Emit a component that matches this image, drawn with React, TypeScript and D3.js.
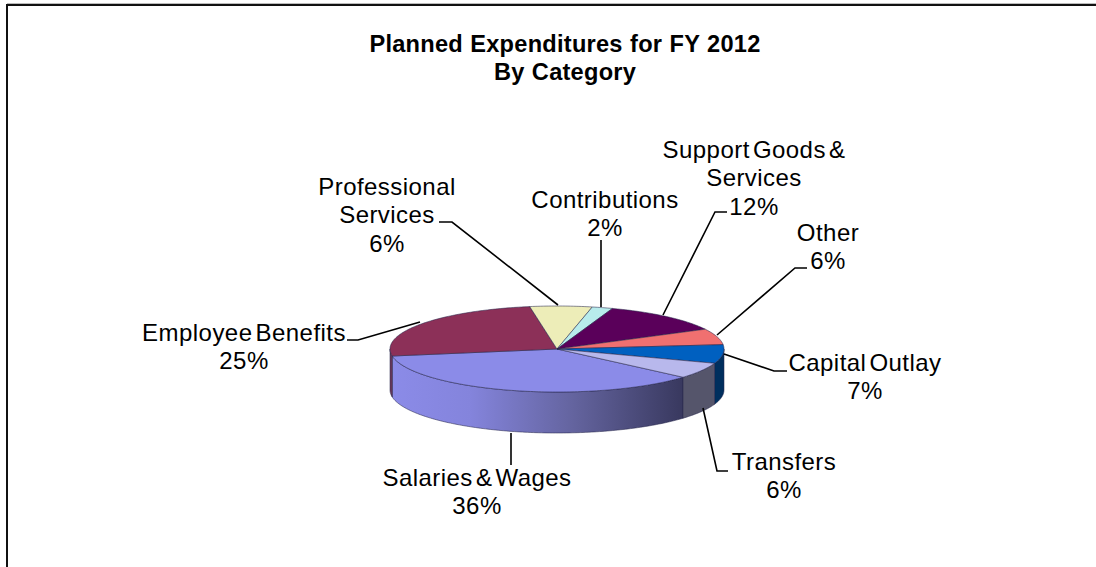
import React from "react";
import * as d3 from "d3";

// Expenditure shares, clockwise from the front-right edge of the pie
const categories = ["Salaries & Wages", "Employee Benefits", "Professional Services", "Contributions", "Support Goods & Services", "Other", "Capital Outlay", "Transfers"];
const shares = [36, 25, 6, 2, 12, 6, 7, 6];
const topColors = ["#8b8be8", "#8c3058", "#ededb8", "#b8ecec", "#5a005a", "#f07070", "#0060c0", "#b8b8ec"];
const wallColors = ["url(#salaryWall)", "#6e3a5c", "#77775c", "#5c7676", "#2d002d", "#783838", "#002f5e", "#55556b"];
const titleLines = ["Planned Expenditures for FY 2012", "By Category"];

// Wrapped label text for each category, in the same order
const labelLines = [
  ["Salaries & Wages"],
  ["Employee Benefits"],
  ["Professional", "Services"],
  ["Contributions"],
  ["Support Goods &", "Services"],
  ["Other"],
  ["Capital Outlay"],
  ["Transfers"],
];

// Label anchor (centre x, first baseline) and leader polyline per category
const labelAnchors: [number, number][] = [[477, 486], [244, 341], [387, 195], [605, 208], [754, 158], [828, 241], [865, 371], [784, 470]];
const leaders: [number, number][][] = [
  [[511, 433], [511, 465]],
  [[347, 340], [358, 340], [420, 322]],
  [[439, 222], [452, 222], [558, 305]],
  [[601, 240], [601, 307]],
  [[727, 212], [715, 212], [663, 315]],
  [[807, 268], [795, 268], [717, 335]],
  [[787, 371], [774, 371], [724, 354]],
  [[728, 471], [717, 471], [703, 408]],
];

const CX = 557;
const CY = 349;
const RX = 167;
const RY = 43;
const DEPTH = 41;
const LINE_HEIGHT = 28.3;
const START = (131 * Math.PI) / 180;

const pieAngles = d3.pie<number>().sort(null).startAngle(START).endAngle(START + 2 * Math.PI)(shares);

const rim = (a: number, dy = 0): [number, number] => [CX + RX * Math.sin(a), CY + dy - RY * Math.cos(a)];
const polyline = d3.line();
const arcPoints = (a0: number, a1: number, dy = 0): [number, number][] => {
  const n = Math.max(2, Math.ceil((a1 - a0) * 60));
  return d3.range(n + 1).map((i) => rim(a0 + ((a1 - a0) * i) / n, dy));
};

// Only the rim between due east and due west faces the viewer
const frontRanges: [number, number][] = [
  [Math.PI / 2, (3 * Math.PI) / 2],
  [(5 * Math.PI) / 2, (7 * Math.PI) / 2],
];

function wallPaths(a0: number, a1: number): string[] {
  const out: string[] = [];
  for (const [lo, hi] of frontRanges) {
    const s = Math.max(a0, lo);
    const e = Math.min(a1, hi);
    if (e > s) {
      const pts = [...arcPoints(s, e), ...arcPoints(s, e, DEPTH).reverse()];
      out.push(polyline(pts) + "Z");
    }
  }
  return out;
}

const EDGE = "#26264a";

export default function App() {
  return (
    <svg width={1096} height={567} style={{ position: "absolute", left: 0, top: 0, background: "#fff" }} fontFamily="'Liberation Sans', Arial, sans-serif">
      <defs>
        <linearGradient id="salaryWall" gradientUnits="userSpaceOnUse" x1={391} x2={684} y1={0} y2={0}>
          <stop offset="0" stopColor="#8b8be8" />
          <stop offset="0.27" stopColor="#8484dc" />
          <stop offset="0.62" stopColor="#64649f" />
          <stop offset="1" stopColor="#38385e" />
        </linearGradient>
      </defs>

      {/* Chart frame: top and left edges only */}
      <path d="M7 567V5H1096" fill="none" stroke="#111" strokeWidth={2} />
      <path d="M7 3.5H1096" fill="none" stroke="#bbb" strokeWidth={1} />

      <text textAnchor="middle" fontWeight="bold" fontSize={23.6} fill="#000" letterSpacing={0.25} wordSpacing={0.5}>
        {titleLines.map((t, i) => (
          <tspan key={t} x={565} y={52 + i * 27.5}>{t}</tspan>
        ))}
      </text>

      {/* Side walls of the pie */}
      {pieAngles.map((d, i) =>
        wallPaths(d.startAngle, d.endAngle).map((p, j) => (
          <path key={`${i}-${j}`} d={p} fill={wallColors[i]} stroke={EDGE} strokeOpacity={0.6} strokeWidth={0.9} />
        ))
      )}

      {/* Top faces */}
      {pieAngles.map((d, i) => (
        <path
          key={categories[i]}
          d={polyline([[CX, CY], ...arcPoints(d.startAngle, d.endAngle)]) + "Z"}
          fill={topColors[i]}
          stroke={EDGE}
          strokeOpacity={0.6}
          strokeWidth={0.9}
          strokeLinejoin="round"
        />
      ))}

      {/* Leader lines */}
      {leaders.map((pts, i) => (
        <path key={i} d={polyline(pts) ?? ""} fill="none" stroke="#000" strokeWidth={1.6} />
      ))}

      {/* Category labels with their percentages */}
      {categories.map((c, i) => {
        const lines = [...labelLines[i], `${shares[i]}%`];
        const [x, y] = labelAnchors[i];
        return (
          <text key={c} textAnchor="middle" fontSize={24} fill="#000" letterSpacing={0.45} wordSpacing={-4}>
            {lines.map((t, k) => (
              <tspan key={k} x={x} y={y + k * LINE_HEIGHT}>{t}</tspan>
            ))}
          </text>
        );
      })}
    </svg>
  );
}
